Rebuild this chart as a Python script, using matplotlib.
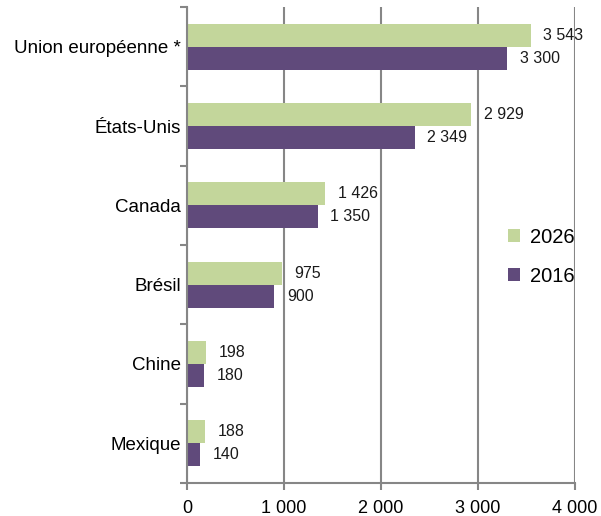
import numpy as np
import matplotlib.pyplot as plt
from matplotlib.ticker import FixedLocator, FuncFormatter

plt.rcParams['font.family'] = ['Liberation Sans', 'DejaVu Sans']

countries = ['Union européenne *', 'États-Unis', 'Canada', 'Brésil', 'Chine', 'Mexique']
val_2026 = [3543, 2929, 1426, 975, 198, 188]
val_2016 = [3300, 2349, 1350, 900, 180, 140]

green = '#c3d69b'
purple = '#604a7b'
grey = '#868686'


def fmt(v):
    return f'{int(v):,}'.replace(',', ' ')


fig = plt.figure(figsize=(6.01, 5.16), dpi=100)
ax = fig.add_axes([0.311, 0.064, 0.646, 0.9224])

y = np.arange(len(countries))
h = 0.29
b1 = ax.barh(y - h / 2, val_2026, height=h, color=green, label='2026')
b2 = ax.barh(y + h / 2, val_2016, height=h, color=purple, label='2016')

for bars, vals in ((b1, val_2026), (b2, val_2016)):
    for bar, v in zip(bars, vals):
        ax.annotate(fmt(v), (bar.get_width(), bar.get_y() + bar.get_height() / 2),
                    xytext=(9, 0), textcoords='offset points',
                    ha='left', va='center', fontsize=11.5, color='#1a1a1a')

ax.set_xlim(0, 4000)
ax.set_ylim(len(countries) - 0.5, -0.5)
ax.set_xticks([0, 1000, 2000, 3000, 4000])
ax.xaxis.set_major_formatter(FuncFormatter(lambda v, p: fmt(v)))
ax.set_yticks(y)
ax.set_yticklabels(countries)
ax.yaxis.set_minor_locator(FixedLocator(np.arange(len(countries) + 1) - 0.5))

ax.grid(axis='x', color=grey, linewidth=1.5)
ax.set_axisbelow(True)
for s in ['top', 'right']:
    ax.spines[s].set_visible(False)
for s in ['left', 'bottom']:
    ax.spines[s].set_color(grey)
    ax.spines[s].set_linewidth(1.5)

ax.tick_params(axis='y', which='major', length=0, pad=4.5, labelsize=13.5)
ax.tick_params(axis='y', which='minor', length=5, width=1.5, color=grey)
ax.tick_params(axis='x', length=5, width=1.5, color=grey, labelsize=13, pad=7)

handles, labels = ax.get_legend_handles_labels()
ax.legend(handles, labels, loc='center left', bbox_to_anchor=(0.78, 0.475),
          frameon=False, fontsize=14.5, handlelength=0.6, handleheight=0.6,
          handletextpad=0.5, labelspacing=1.0)

fig.savefig('out.png', dpi=100)
